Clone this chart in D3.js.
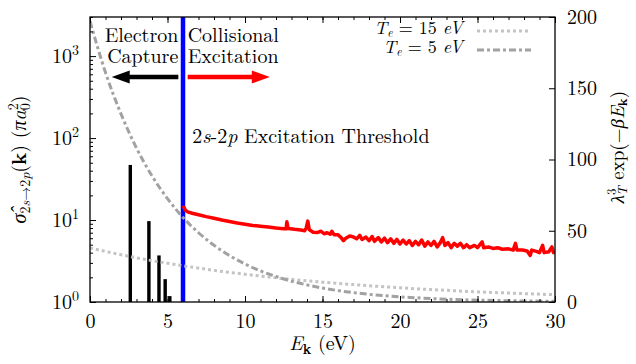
<!DOCTYPE html>
<html>
<head>
<meta charset="utf-8">
<script src="https://cdn.jsdelivr.net/npm/d3@7"></script>
<style>
  body { margin: 0; background: #fff; }
  svg { display: block; }
  .serif { font-family: "Latin Modern Roman", "Liberation Serif", serif; }
</style>
</head>
<body>
<svg id="chart" width="636" height="364"></svg>
<script>
// electron capture resonances (bars)
const barEnergy = [2.6, 3.8, 4.45, 4.85, 5.15];
const barSigma = [47, 9.7, 3.7, 1.9, 1.18];

// 2s-2p collisional excitation cross section
const excEnergy = [6.0, 6.05, 6.15, 6.3, 6.6, 7.0, 7.5, 8.0, 8.5, 9.0, 9.5, 10.0, 10.5, 11.0, 11.5, 12.0,
  12.5, 12.65, 12.7, 12.78, 13.2, 13.6, 13.85, 13.95, 14.05, 14.15, 14.4, 14.7, 14.9, 15.1, 15.3, 15.5,
  15.6, 15.75, 16.0, 16.2, 16.35, 16.5, 16.75, 17.0, 17.2, 17.4, 17.55, 17.8, 18.0, 18.2, 18.35, 18.6,
  18.8, 19.0, 19.2, 19.4, 19.6, 19.8, 20.0, 20.2, 20.4, 20.6, 20.8, 21.0, 21.2, 21.4, 21.6, 21.8,
  22.0, 22.2, 22.4, 22.6, 22.75, 22.9, 23.1, 23.3, 23.5, 23.7, 23.9, 24.1, 24.3, 24.5, 24.8, 25.0,
  25.3, 25.4, 25.7, 26.0, 26.3, 26.6, 27.0, 27.3, 27.45, 27.55, 27.9, 28.2, 28.4, 28.5, 28.8, 29.0,
  29.2, 29.3, 29.6, 29.8, 29.9, 30.0];
const excSigma = [14.0, 14.4, 13.2, 12.6, 12.1, 11.6, 11.0, 10.5, 10.0, 9.6, 9.2, 8.9, 8.6, 8.4, 8.2, 8.0,
  7.85, 7.8, 9.5, 7.9, 7.7, 7.55, 7.4, 8.0, 9.7, 7.6, 7.1, 7.05, 7.3, 6.8, 7.0, 6.7,
  7.3, 6.6, 6.6, 6.1, 5.6, 6.0, 6.4, 6.2, 5.9, 6.5, 5.8, 6.2, 5.6, 6.3, 5.5, 6.1,
  5.4, 6.0, 5.3, 5.9, 5.2, 5.8, 5.1, 5.7, 5.1, 5.6, 4.9, 5.5, 5.0, 5.7, 4.8, 5.4,
  4.9, 5.5, 4.7, 5.3, 6.1, 4.9, 5.3, 4.6, 5.2, 4.8, 5.2, 4.6, 5.0, 4.6, 4.9, 4.6,
  5.4, 4.6, 4.7, 4.5, 4.6, 4.4, 4.45, 4.3, 5.2, 4.3, 4.3, 4.2, 3.7, 4.3, 4.15, 4.0,
  4.9, 4.0, 4.1, 4.7, 4.0, 4.1];

// Boltzmann weight lambda^3 exp(-beta E) for the two temperatures
const boltzEnergy = [0, 1, 2, 3, 4, 5, 6, 7, 8, 9, 10, 11, 12, 13, 14, 15, 16, 17, 18, 19, 20,
  21, 22, 23, 24, 25, 26, 27, 28, 29, 30];
const boltzT15 = [37.9, 35.5, 33.2, 31.0, 29.0, 27.2, 25.4, 23.8, 22.2, 20.8, 19.5, 18.2, 17.0, 15.9,
  14.9, 13.9, 13.0, 12.2, 11.4, 10.7, 10.0, 9.3, 8.7, 8.2, 7.6, 7.1, 6.7, 6.3, 5.9, 5.5, 5.1];
const boltzT5 = [197, 161, 132, 108, 88.5, 72.5, 59.3, 48.6, 39.8, 32.6, 26.7, 21.8, 17.9, 14.6,
  12.0, 9.8, 8.0, 6.6, 5.4, 4.4, 3.6, 3.0, 2.4, 2.0, 1.6, 1.3, 1.1, 0.9, 0.7, 0.6, 0.5];

const thresholdEnergy = 6;
const xTicks = [0, 5, 10, 15, 20, 25, 30];
const yLeftTicks = [1, 10, 100, 1000];
const yLeftExp = ['0', '1', '2', '3'];
const yRightTicks = [0, 50, 100, 150, 200];
const legendTemps = ['15', '5'];

const margin = { top: 17, right: 81, bottom: 62, left: 90 };
const W = 636, H = 364;
const width = W - margin.left - margin.right;
const height = H - margin.top - margin.bottom;

const svg = d3.select('#chart');
const g = svg.append('g').attr('transform', `translate(${margin.left},${margin.top})`);

const x = d3.scaleLinear().domain([0, 30]).range([0, width]);
const yL = d3.scaleLog().domain([1, 3000]).range([height, 0]);
const yR = d3.scaleLinear().domain([0, 200]).range([height, 0]);

g.append('defs').append('clipPath').attr('id', 'clip')
  .append('rect').attr('width', width).attr('height', height);
const plot = g.append('g').attr('clip-path', 'url(#clip)');

// threshold line
plot.append('line')
  .attr('x1', x(thresholdEnergy)).attr('x2', x(thresholdEnergy))
  .attr('y1', 0).attr('y2', height)
  .attr('stroke', '#0000ff').attr('stroke-width', 4.5);

// capture bars
const barW = x(0.22) - x(0);
plot.selectAll('.bar')
  .data(barEnergy.map((e, i) => ({ e, v: barSigma[i] })))
  .join('rect')
  .attr('class', 'bar')
  .attr('x', d => x(d.e) - barW / 2)
  .attr('width', barW)
  .attr('y', d => yL(d.v))
  .attr('height', d => height - yL(d.v))
  .attr('fill', '#000');

// excitation cross section
const exc = excEnergy.map((e, i) => ({ e, v: excSigma[i] }));
plot.append('path')
  .datum(exc)
  .attr('fill', 'none')
  .attr('stroke', '#ff0000')
  .attr('stroke-width', 3.5)
  .attr('stroke-linejoin', 'round')
  .attr('d', d3.line().x(d => x(d.e)).y(d => yL(d.v)));

// boltzmann curves (right axis)
const boltzLine = d3.line().x(d => x(d.e)).y(d => yR(d.v)).curve(d3.curveMonotoneX);
const styles = [
  { vals: boltzT15, color: '#c4c4c4', dash: '3,3' },
  { vals: boltzT5, color: '#a2a2a2', dash: '7,3,3,3' },
];
styles.forEach(s => {
  plot.append('path')
    .datum(boltzEnergy.map((e, i) => ({ e, v: s.vals[i] })))
    .attr('fill', 'none')
    .attr('stroke', s.color)
    .attr('stroke-width', 3)
    .attr('stroke-dasharray', s.dash)
    .attr('d', boltzLine);
});

// axes, ticks point inwards
function styleAxis(sel) {
  sel.attr('font-family', null).attr('font-size', null);
  sel.select('.domain').remove();
  sel.selectAll('.tick line').attr('stroke', '#000').attr('stroke-width', 1);
  sel.selectAll('.tick text').attr('class', 'serif').style('font-size', '20px').attr('fill', '#000');
}
const minorX = d3.range(0, 31);
g.append('g').attr('transform', `translate(0,${height})`)
  .call(d3.axisBottom(x).tickValues(minorX).tickSize(-3).tickFormat('')).call(styleAxis);
g.append('g').attr('transform', `translate(0,${height})`)
  .call(d3.axisBottom(x).tickValues(xTicks).tickSize(-6).tickPadding(12).tickFormat(d3.format('d'))).call(styleAxis);
g.append('g')
  .call(d3.axisTop(x).tickValues(minorX).tickSize(-3).tickFormat('')).call(styleAxis);
g.append('g')
  .call(d3.axisTop(x).tickValues(xTicks).tickSize(-6).tickFormat('')).call(styleAxis);

const minorY = [];
[1, 10, 100, 1000].forEach(b => d3.range(2, 10).forEach(k => { if (b * k <= 3000) minorY.push(b * k); }));
g.append('g')
  .call(d3.axisLeft(yL).tickValues(minorY).tickSize(-3).tickFormat('')).call(styleAxis);
const leftAxis = g.append('g')
  .call(d3.axisLeft(yL).tickValues(yLeftTicks).tickSize(-6).tickFormat(() => '10'))
  .call(styleAxis);
leftAxis.selectAll('.tick text').each(function (d, i) {
  d3.select(this).append('tspan').attr('dy', -8).style('font-size', '14px').text(yLeftExp[i]);
}).attr('x', -11).attr('dy', '0.3em');

g.append('g').attr('transform', `translate(${width},0)`)
  .call(d3.axisRight(yR).tickValues(yRightTicks).tickSize(-6).tickPadding(12)).call(styleAxis);

// frame
g.append('rect').attr('width', width).attr('height', height)
  .attr('fill', 'none').attr('stroke', '#000').attr('stroke-width', 1.3);

// annotations: arrows and labels
const arrowY = yL(555);
function arrow(x0, x1, color) {
  const dir = Math.sign(x1 - x0);
  const headLen = 18, headHalf = 6.5;
  g.append('line')
    .attr('x1', x0).attr('x2', x1 - dir * headLen + dir)
    .attr('y1', arrowY).attr('y2', arrowY)
    .attr('stroke', color).attr('stroke-width', 4.5);
  g.append('path')
    .attr('d', `M${x1},${arrowY}L${x1 - dir * headLen},${arrowY - headHalf}L${x1 - dir * headLen},${arrowY + headHalf}Z`)
    .attr('fill', color);
}
arrow(x(5.7), x(1.4), '#000');
arrow(x(6.3), x(11.6), '#ff0000');

const labelFont = (sel, size) => sel.attr('class', 'serif').style('font-size', size + 'px').attr('fill', '#000');
g.append('text').attr('x', x(5.7)).attr('y', 25).attr('text-anchor', 'end').call(labelFont, 20).text('Electron');
g.append('text').attr('x', x(5.7)).attr('y', 46).attr('text-anchor', 'end').call(labelFont, 20).text('Capture');
g.append('text').attr('x', x(6.3)).attr('y', 25).call(labelFont, 20).text('Collisional');
g.append('text').attr('x', x(6.3)).attr('y', 46).call(labelFont, 20).text('Excitation');

const thr = g.append('text').attr('x', x(6.6)).attr('y', 126).call(labelFont, 20);
thr.append('tspan').text('2');
thr.append('tspan').attr('font-style', 'italic').text('s');
thr.append('tspan').text('-2');
thr.append('tspan').attr('font-style', 'italic').text('p');
thr.append('tspan').text(' Excitation Threshold');

// legend
legendTemps.forEach((temp, i) => {
  const ly = 17 + i * 19;
  const t = g.append('text').attr('x', 373).attr('y', ly).attr('text-anchor', 'end').call(labelFont, 18);
  t.append('tspan').attr('font-style', 'italic').text('T');
  t.append('tspan').style('font-size', '12px').attr('font-style', 'italic').attr('dy', 3).text('e');
  t.append('tspan').attr('dy', -3).text(` = ${temp} `);
  t.append('tspan').attr('font-style', 'italic').text('eV');
  g.append('line').attr('x1', 387).attr('x2', 441).attr('y1', ly - 3).attr('y2', ly - 3)
    .attr('stroke', styles[i].color).attr('stroke-width', 3).attr('stroke-dasharray', styles[i].dash);
});

// axis titles
const xt = svg.append('text').attr('x', margin.left + width / 2).attr('y', 350)
  .attr('text-anchor', 'middle').call(labelFont, 20);
xt.append('tspan').attr('font-style', 'italic').text('E');
xt.append('tspan').attr('font-weight', 'bold').style('font-size', '14px').attr('dy', 4).text('k');
xt.append('tspan').attr('dy', -4).text(' (eV)');

const lt = svg.append('text').attr('transform', `translate(26,${margin.top + height / 2}) rotate(-90)`)
  .attr('text-anchor', 'middle').call(labelFont, 20);
lt.append('tspan').attr('font-style', 'italic').text('σ\u0302');
lt.append('tspan').style('font-size', '14px').attr('dy', 4).text('2');
lt.append('tspan').style('font-size', '14px').attr('font-style', 'italic').text('s');
lt.append('tspan').style('font-size', '14px').text('→2');
lt.append('tspan').style('font-size', '14px').attr('font-style', 'italic').text('p');
lt.append('tspan').attr('dy', -4).text('(');
lt.append('tspan').attr('font-weight', 'bold').text('k');
lt.append('tspan').text(') (');
lt.append('tspan').attr('font-style', 'italic').text('πa');
lt.append('tspan').style('font-size', '14px').attr('dy', -8).text('2');
lt.append('tspan').style('font-size', '14px').attr('dx', -7).attr('dy', 12).text('0');
lt.append('tspan').attr('dy', -4).text(')');

const rt = svg.append('text').attr('transform', `translate(624,147) rotate(-90)`)
  .attr('text-anchor', 'middle').call(labelFont, 19);
rt.append('tspan').attr('font-style', 'italic').text('λ');
rt.append('tspan').style('font-size', '13px').attr('dy', -8).text('3');
rt.append('tspan').style('font-size', '13px').attr('font-style', 'italic').attr('dx', -7).attr('dy', 11).text('T');
rt.append('tspan').attr('dy', -3).text(' exp(−');
rt.append('tspan').attr('font-style', 'italic').text('βE');
rt.append('tspan').attr('font-weight', 'bold').style('font-size', '13px').attr('dy', 3).text('k');
rt.append('tspan').attr('dy', -3).text(')');
</script>
</body>
</html>
